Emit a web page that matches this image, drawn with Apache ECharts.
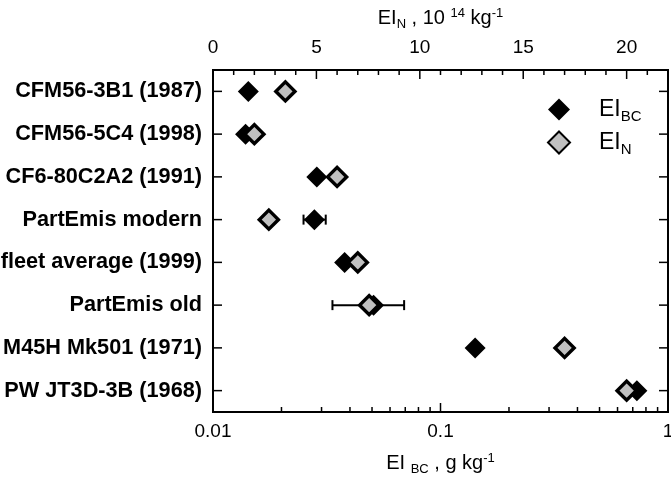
<!DOCTYPE html>
<html>
<head>
<meta charset="utf-8">
<script src="https://cdn.jsdelivr.net/npm/echarts@6/dist/echarts.min.js"></script>
<style>html,body{margin:0;padding:0;background:#fff}#c{width:671px;height:481px}</style>
</head>
<body>
<div id="c"></div>
<script>
const engines = ['CFM56-3B1 (1987)','CFM56-5C4 (1998)','CF6-80C2A2 (1991)','PartEmis modern','fleet average (1999)','PartEmis old','M45H Mk501 (1971)','PW JT3D-3B (1968)'];
const eiBC = [0.0143, 0.0139, 0.0286, 0.0279, 0.0379, 0.0508, 0.142, 0.73];
const eiN = [3.5, 2.0, 6.0, 2.7, 7.0, 7.55, 17.0, 20.0];
// error bars on EI_BC: [low, high, category index]
const bcErrLow = [null, null, null, 0.025, null, 0.0335, null, null];
const bcErrHigh = [null, null, null, 0.0313, null, 0.0692, null, null];
const logMajorTicks = [0.01, 0.1, 1];
const logMinorTicks = [0.02,0.03,0.04,0.05,0.06,0.07,0.08,0.09,0.2,0.3,0.4,0.5,0.6,0.7,0.8,0.9];
const topTickLabels = [0, 5, 10, 15, 20];
const topMinorTicks = [1,2,3,4,6,7,8,9,11,12,13,14,16,17,18,19,21];

const FONT = "'Liberation Sans', Arial, sans-serif";
const errData = [];
for (let i = 0; i < engines.length; i++) {
  if (bcErrLow[i] != null) errData.push([bcErrLow[i], bcErrHigh[i], i]);
}
const titleRich = {
  a: {fontFamily: FONT, fontSize: 20, color: '#000', lineHeight: 30, verticalAlign: 'middle'},
  sub: {fontFamily: FONT, fontSize: 13, color: '#000', lineHeight: 30, verticalAlign: 'bottom', padding: [0,0,2,0]},
  sup: {fontFamily: FONT, fontSize: 13, color: '#000', lineHeight: 30, verticalAlign: 'top', padding: [4,0,0,0]}
};
const LINE = {stroke: '#000', lineWidth: 1.5};
function xTickSeries(name, axisIdx, values, len, top) {
  return {
    type: 'custom', name: name, xAxisIndex: axisIdx, yAxisIndex: 0, silent: true, z: 6,
    data: values.map(v => [v, 0]),
    encode: {x: 0, y: 1},
    renderItem: function (params, api) {
      const cs = params.coordSys;
      const x = api.coord([api.value(0), 0])[0];
      const y0 = top ? cs.y : cs.y + cs.height;
      const y1 = top ? y0 + len : y0 - len;
      return {type: 'line', shape: {x1: x, y1: y0, x2: x, y2: y1}, style: LINE};
    }
  };
}
const chart = echarts.init(document.getElementById('c'), null, {renderer: 'canvas'});
chart.setOption({
  animation: false,
  backgroundColor: '#fff',
  grid: {left: 213, right: 3, top: 70, bottom: 69, containLabel: false, outerBoundsMode: 'none'},
  legend: {
    data: ['BC', 'N'],
    orient: 'vertical',
    left: 542, top: 93,
    itemWidth: 22, itemHeight: 22, itemGap: 6,
    icon: 'diamond',
    formatter: function (n) { return '{a|EI}{s|' + n + '}'; },
    textStyle: {
      rich: {
        a: {fontFamily: FONT, fontSize: 23, color: '#000', lineHeight: 30, verticalAlign: 'middle', padding: [0,0,0,24]},
        s: {fontFamily: FONT, fontSize: 15, color: '#000', lineHeight: 30, verticalAlign: 'bottom'}
      }
    }
  },
  xAxis: [
    {
      type: 'log', logBase: 10, min: 0.01, max: 1, position: 'bottom',
      axisLine: {show: true, lineStyle: {color: '#000', width: 2}},
      axisTick: {show: false},
      axisLabel: {fontFamily: FONT, fontSize: 19, color: '#000', margin: 10,
        formatter: function (v) { return v >= 1 ? '1' : (v < 0.05 ? '0.01' : '0.1'); }},
      splitLine: {show: false},
      name: '{a|EI }{sub|BC}{a| , g kg}{sup|-1}',
      nameLocation: 'middle', nameGap: 36,
      nameTextStyle: {rich: titleRich}
    },
    {
      type: 'value', min: 0, max: 22, interval: 5, position: 'top',
      axisLine: {show: true, lineStyle: {color: '#000', width: 2}},
      axisTick: {show: false},
      axisLabel: {fontFamily: FONT, fontSize: 19, color: '#000', margin: 13,
        formatter: function (v) { return topTickLabels.indexOf(v) >= 0 ? String(v) : ''; }},
      splitLine: {show: false},
      name: '{a|EI}{sub|N}{a| , 10 }{sup|14}{a| kg}{sup|-1}',
      nameLocation: 'middle', nameGap: 36,
      nameTextStyle: {rich: titleRich}
    }
  ],
  yAxis: [
    {
      type: 'category', data: engines, inverse: true, position: 'left',
      axisLine: {show: true, lineStyle: {color: '#000', width: 2}},
      axisTick: {show: false},
      axisLabel: {fontFamily: FONT, fontSize: 21.7, fontWeight: 'bold', color: '#000', margin: 11},
      splitLine: {show: false}
    },
    {
      type: 'category', data: engines, inverse: true, position: 'right',
      axisLine: {show: true, lineStyle: {color: '#000', width: 2}},
      axisTick: {show: false},
      axisLabel: {show: false},
      splitLine: {show: false}
    }
  ],
  series: [
    {
      type: 'custom', name: 'frame', xAxisIndex: 0, yAxisIndex: 0, silent: true, z: 6,
      data: [[0.1, 0]],
      encode: {x: 0, y: 1},
      renderItem: function (params, api) {
        const cs = params.coordSys;
        return {type: 'rect', shape: {x: cs.x, y: cs.y, width: cs.width, height: cs.height},
          style: {fill: 'none', stroke: '#000', lineWidth: 2}};
      }
    },
    xTickSeries('bMajor', 0, logMajorTicks, 9, false),
    xTickSeries('bMinor', 0, logMinorTicks, 5, false),
    xTickSeries('tMajor', 1, topTickLabels, 9, true),
    xTickSeries('tMinor', 1, topMinorTicks, 5, true),
    {
      type: 'custom', name: 'yTicks', xAxisIndex: 0, yAxisIndex: 0, silent: true, z: 6,
      data: engines.map((e, i) => [0.1, i]),
      encode: {x: 0, y: 1},
      renderItem: function (params, api) {
        const cs = params.coordSys;
        const y = api.coord([0.1, api.value(1)])[1];
        return {type: 'group', children: [
          {type: 'line', shape: {x1: cs.x, y1: y, x2: cs.x + 9, y2: y}, style: LINE},
          {type: 'line', shape: {x1: cs.x + cs.width - 9, y1: y, x2: cs.x + cs.width, y2: y}, style: LINE}
        ]};
      }
    },
    {
      type: 'custom', name: 'err', xAxisIndex: 0, yAxisIndex: 0, silent: true, z: 3,
      data: errData,
      encode: {x: [0, 1], y: 2},
      renderItem: function (params, api) {
        const p1 = api.coord([api.value(0), api.value(2)]);
        const p2 = api.coord([api.value(1), api.value(2)]);
        const h = 5;
        const st = {stroke: '#000', lineWidth: 2};
        return {type: 'group', children: [
          {type: 'line', shape: {x1: p1[0], y1: p1[1], x2: p2[0], y2: p2[1]}, style: st},
          {type: 'line', shape: {x1: p1[0], y1: p1[1] - h, x2: p1[0], y2: p1[1] + h}, style: st},
          {type: 'line', shape: {x1: p2[0], y1: p2[1] - h, x2: p2[0], y2: p2[1] + h}, style: st}
        ]};
      }
    },
    {
      type: 'scatter', name: 'BC', xAxisIndex: 0, yAxisIndex: 0, z: 4,
      symbol: 'diamond', symbolSize: 21,
      itemStyle: {color: '#000', opacity: 1},
      data: eiBC.map((v, i) => [v, i])
    },
    {
      type: 'scatter', name: 'N', xAxisIndex: 1, yAxisIndex: 0, z: 5,
      symbol: 'diamond', symbolSize: 19,
      itemStyle: {color: '#c0c0c0', borderColor: '#000', borderWidth: 3.5, opacity: 1},
      data: eiN.map((v, i) => [v, i])
    }
  ]
});
</script>
</body>
</html>
